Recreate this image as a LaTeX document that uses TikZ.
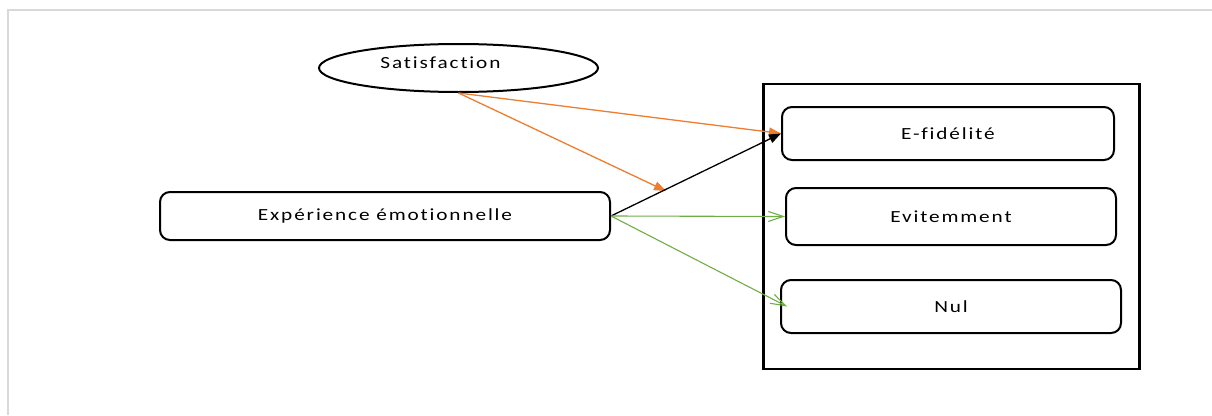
\documentclass[tikz,border=0pt]{standalone}
\usepackage{fontspec}
\setmainfont{Carlito}[FakeStretch=1.25,LetterSpace=11,Ligatures={NoCommon}]
\usetikzlibrary{shapes.geometric,arrows.meta}
\definecolor{offorange}{HTML}{ED7D31}
\definecolor{offgreen}{HTML}{70AD47}
\definecolor{framegray}{HTML}{D9D9D9}
\begin{document}
\begin{tikzpicture}[x=1pt,y=-1pt,
  every node/.style={font=\fontsize{17}{20}\selectfont, inner sep=0pt},
  rbox/.style={draw=black, line width=2pt, rounded corners=10pt, rectangle},
  orangearrow/.style={draw=offorange, line width=1.3pt, -{Triangle[length=12pt,width=9pt]}},
  blackarrow/.style={draw=black, line width=1.3pt, -{Triangle[length=12pt,width=9pt]}},
  greenarrow/.style={draw=offgreen, line width=1.1pt, -{Straight Barb[length=15pt,width=10pt,line width=1.1pt]}}
]
\useasboundingbox (0,0) rectangle (1212,415);
% page frame
\draw[framegray, line width=1.5pt] (8,415) -- (8,10) -- (1212,10);
% outer rectangle
\node[draw=black, line width=2.5pt, minimum width=376pt, minimum height=285pt] (group) at (951.5,226.5) {};
% nodes
\node[ellipse, draw=black, line width=2pt, minimum width=279pt, minimum height=48pt,
  label={[xshift=-18pt,yshift=5pt]center:Satisfaction}] (sat) at (458.5,68) {};
\node[rbox, minimum width=450pt, minimum height=48pt] (exp) at (385,216) {Expérience émotionnelle};
\node[rbox, minimum width=332pt, minimum height=53pt] (efid) at (948,133.5) {E-fidélité};
\node[rbox, minimum width=330pt, minimum height=57pt] (evit) at (951,216.5) {Evitemment};
\node[rbox, minimum width=340pt, minimum height=53pt] (nul) at (951,306.5) {Nul};
\coordinate (mid) at (666,191);
% connectors
\draw[orangearrow] (sat.south) -- (efid.west);
\draw[orangearrow] (sat.south) -- (mid);
\draw[blackarrow] (exp.east) -- (efid.west);
\draw[greenarrow] (exp.east) -- (evit.west);
\draw[greenarrow] (exp.east) -- ([xshift=7pt]nul.west);
\end{tikzpicture}
\end{document}
